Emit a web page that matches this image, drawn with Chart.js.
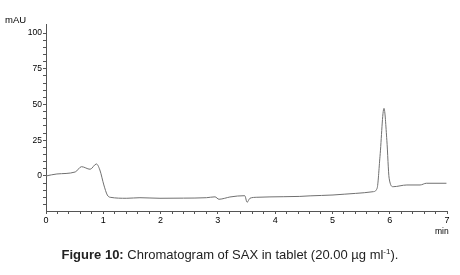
<!DOCTYPE html>
<html>
<head>
<meta charset="utf-8">
<script src="https://cdn.jsdelivr.net/npm/chart.js@4.4.1/dist/chart.umd.min.js"></script>
<style>
  html, body { margin: 0; padding: 0; background: #fff; }
  #wrap { position: relative; width: 460px; height: 275px; overflow: hidden; }
  #c { position: absolute; left: 0; top: 0; }
  .lbl { position: absolute; font-family: "Liberation Sans", Arial, sans-serif; color: #000; white-space: nowrap; line-height: 12px; z-index: 2; }
  #caption { position: absolute; left: 0; width: 460px; top: 247px; text-align: center;
             font-family: "Liberation Sans", Arial, sans-serif; font-size: 13px; color: #222; }
  #caption sup { font-size: 8px; vertical-align: 5px; line-height: 0; }
</style>
</head>
<body>
<div id="wrap">
  <canvas id="c" width="460" height="275"></canvas>
  <div class="lbl" id="yunit" style="left:5px; top:14px; font-size:9.5px;">mAU</div>
  <div class="lbl" id="xunit" style="left:435px; top:225px; font-size:8.5px;">min</div>
  <div id="caption"><b>Figure 10:</b> Chromatogram of SAX in tablet (20.00 µg ml<sup>-1</sup>).</div>
</div>
<script>
// Retention time (min) and absorbance (mAU)
const times = [0.00, 0.19, 0.51, 0.62, 0.77, 0.88, 0.94, 1.01, 1.07, 1.12, 1.41, 1.64, 1.99,
               2.40, 2.80, 2.95, 3.02, 3.12, 3.21, 3.47, 3.51, 3.56, 3.68, 4.14, 4.43, 4.61,
               5.01, 5.40, 5.71, 5.78, 5.83, 5.90, 5.95, 5.99, 6.06, 6.30, 6.53, 6.64, 6.99];
const mAU   = [0.0, 1.4, 2.8, 6.5, 4.7, 8.4, 4.2, -6.3, -13.3, -14.9, -15.6, -15.2, -15.6,
               -15.5, -15.2, -14.6, -16.3, -15.6, -14.7, -13.8, -18.4, -15.6, -14.9, -14.5, -14.3, -13.9,
               -13.3, -12.2, -11.0, -8.6, 13.5, 47.3, 25.0, -1.6, -7.5, -6.3, -6.3, -5.1, -5.1];
const xTickLabels = [0, 1, 2, 3, 4, 5, 6, 7];
const yTickLabels = [0, 25, 50, 75, 100];

const points = times.map((t, i) => ({ x: t, y: mAU[i] }));
const near = (v, list) => list.some(l => Math.abs(v - l) < 1e-6);

new Chart(document.getElementById('c'), {
  type: 'line',
  data: { datasets: [{ data: points, borderColor: '#707070', borderWidth: 1, pointRadius: 0,
                       tension: 0.35, cubicInterpolationMode: 'monotone', fill: false }] },
  options: {
    responsive: false, animation: false,
    layout: { padding: { left: 0, right: 13, top: 24, bottom: 44 } },
    plugins: { legend: { display: false }, tooltip: { enabled: false } },
    scales: {
      x: {
        type: 'linear', min: 0, max: 7,
        afterBuildTicks: s => {
          const t = [];
          for (let i = 0; i <= 35; i++) t.push({ value: i * 0.2 });
          s.ticks = t;
        },
        afterFit: s => { s.height = 20; },
        grid: { drawOnChartArea: false, drawTicks: true, tickLength: 3, color: '#555' },
        border: { display: true, color: '#555', width: 1 },
        ticks: {
          autoSkip: false, maxRotation: 0, padding: 1, color: '#000',
          font: { family: 'Liberation Sans', size: 9 },
          callback: v => near(v, xTickLabels) ? String(Math.round(v)) : ''
        }
      },
      y: {
        type: 'linear', min: -24.5, max: 106.3,
        afterBuildTicks: s => {
          const t = [];
          for (let v = -20; v <= 100; v += 5) t.push({ value: v });
          s.ticks = t;
        },
        afterFit: s => { s.width = 46; },
        grid: { drawOnChartArea: false, drawTicks: true, tickLength: 3, color: '#555' },
        border: { display: true, color: '#555', width: 1 },
        ticks: {
          autoSkip: false, padding: 1, color: '#000',
          font: { family: 'Liberation Sans', size: 8.5 },
          callback: v => near(v, yTickLabels) ? String(Math.round(v)) : ''
        }
      }
    }
  }
});
</script>
</body>
</html>
